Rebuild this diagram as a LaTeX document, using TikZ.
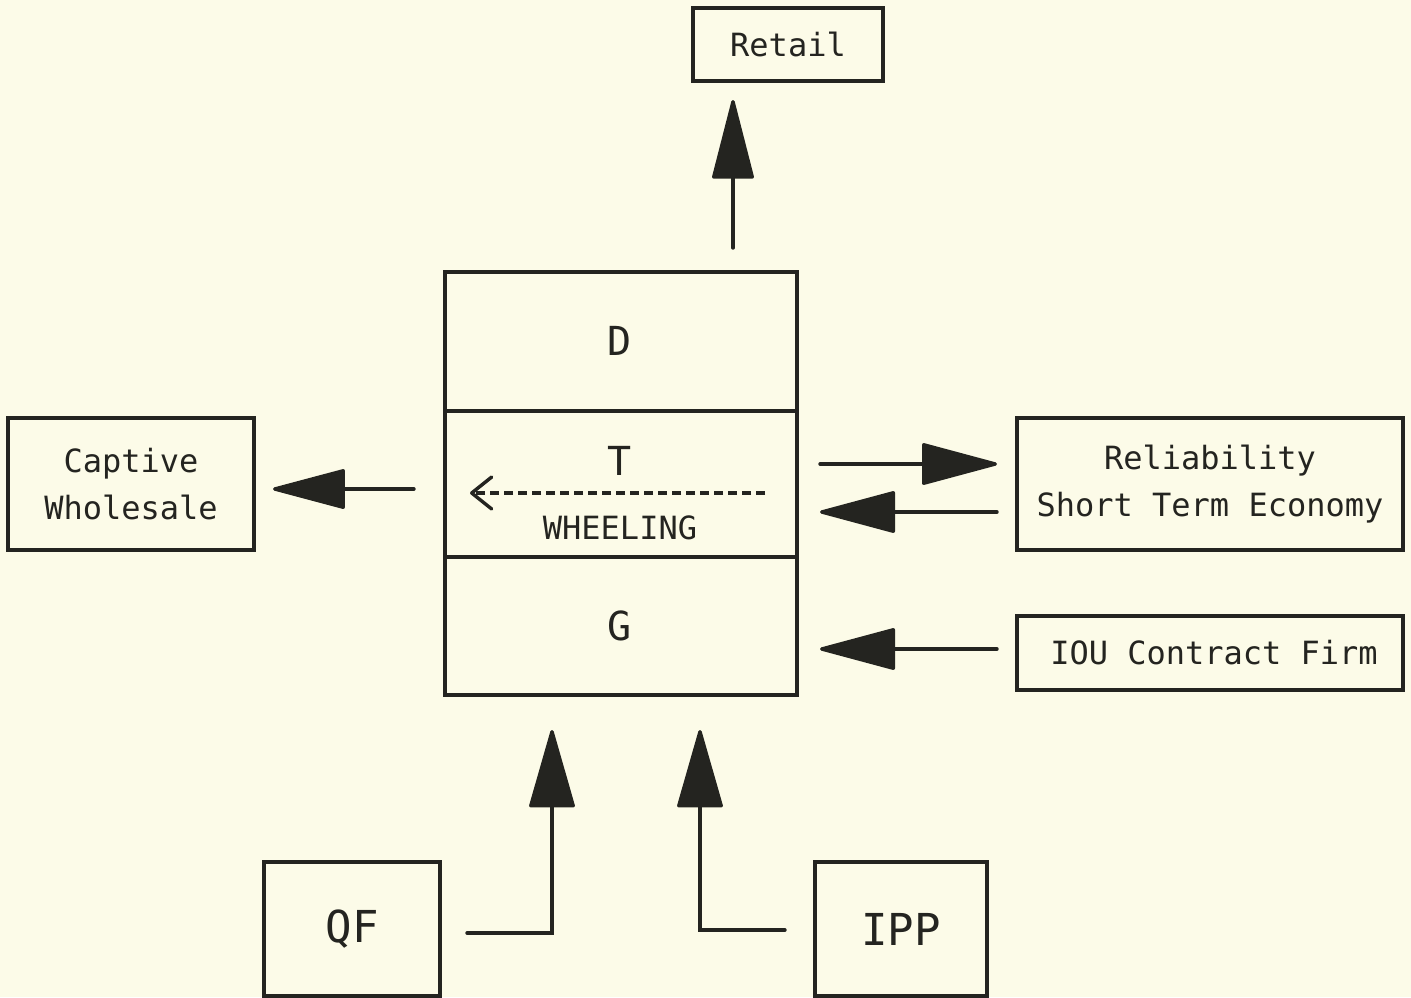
\documentclass[tikz,border=0pt]{standalone}
\usepackage{fontspec}
\setmonofont{DejaVu Sans Mono}
\usetikzlibrary{arrows.meta}
\definecolor{paper}{RGB}{252,251,232}
\definecolor{ink}{RGB}{36,36,32}
\begin{document}
\begin{tikzpicture}[x=1pt,y=-1pt,
  box/.style={draw=ink, line width=3.4pt, inner sep=0pt, text=ink, align=center,
    font=\ttfamily\fontsize{32}{47}\selectfont},
  cell/.style={box, minimum width=352pt},
  big/.style={text=ink, font=\ttfamily\fontsize{40}{48}\selectfont},
  small/.style={text=ink, font=\ttfamily\fontsize{32}{40}\selectfont},
  flow/.style={draw=ink, line width=3.4pt, line cap=round,
    -{Triangle[length=80pt,width=42pt,round]}},
  wheel/.style={draw=ink, line width=3.4pt, dash pattern=on 9pt off 5pt,
    -{Straight Barb[length=20pt,width=32pt,round]}}]

% paper
\fill[paper] (0,0) rectangle (1411,997);
\useasboundingbox (0,0) rectangle (1411,997);

% outer parties
\node[box, minimum width=190pt, minimum height=73pt] (retail) at (788,44.5) {Retail};
\node[box, minimum width=246pt, minimum height=132pt] (captive) at (131,484) {Captive\\Wholesale};
\node[box, minimum width=386pt, minimum height=132pt] (rel) at (1210,484) {Reliability\\Short Term Economy};
\node[box, minimum width=386pt, minimum height=74pt] (iou) at (1210,653) {\hspace*{8pt}IOU Contract Firm};
\node[box, minimum width=176pt, minimum height=134pt, font=\ttfamily\fontsize{44}{50}\selectfont] (qf) at (352,929) {QF};
\node[box, minimum width=172pt, minimum height=134pt, font=\ttfamily\fontsize{44}{50}\selectfont] (ipp) at (901,929) {IPP};

% the utility: distribution, transmission, generation
\node[cell, minimum height=139pt] (D) at (621,341.5) {};
\node[cell, minimum height=146pt] (T) at (621,484) {};
\node[cell, minimum height=138pt] (G) at (621,626) {};
\node[big] (Dl) at (620,341) {D};
\node[big] (Tl) at (620,461) {T};
\node[big] (Gl) at (620,626) {G};
\node[small] (wl) at (620,528) {WHEELING};

% arrow end points
\coordinate (rA) at (733,248);  \coordinate (rB) at (733,100);
\coordinate (cA) at (414,489);  \coordinate (cB) at (273,489);
\coordinate (oA) at (820,464);  \coordinate (oB) at (997,464);
\coordinate (iA) at (997,512);  \coordinate (iB) at (820,512);
\coordinate (fA) at (997,649);  \coordinate (fB) at (820,649);
\coordinate (qA) at (467,933);  \coordinate (qB) at (552,730);
\coordinate (pA) at (785,930);  \coordinate (pB) at (700,730);
\coordinate (wA) at (765,493);  \coordinate (wB) at (470,493);

% flows
\draw[flow, -{Triangle[length=84pt,width=42pt,round]}] (rA) -- (rB);
\draw[flow, -{Triangle[length=77pt,width=40pt,round]}] (cA) -- (cB);
\draw[flow] (oA) -- (oB);
\draw[flow] (iA) -- (iB);
\draw[flow] (fA) -- (fB);
\draw[flow, -{Triangle[length=82pt,width=46pt,round]}] (qA) -| (qB);
\draw[flow, -{Triangle[length=82pt,width=46pt,round]}] (pA) -| (pB);
\draw[wheel] (wA) -- (wB);
\end{tikzpicture}
\end{document}
